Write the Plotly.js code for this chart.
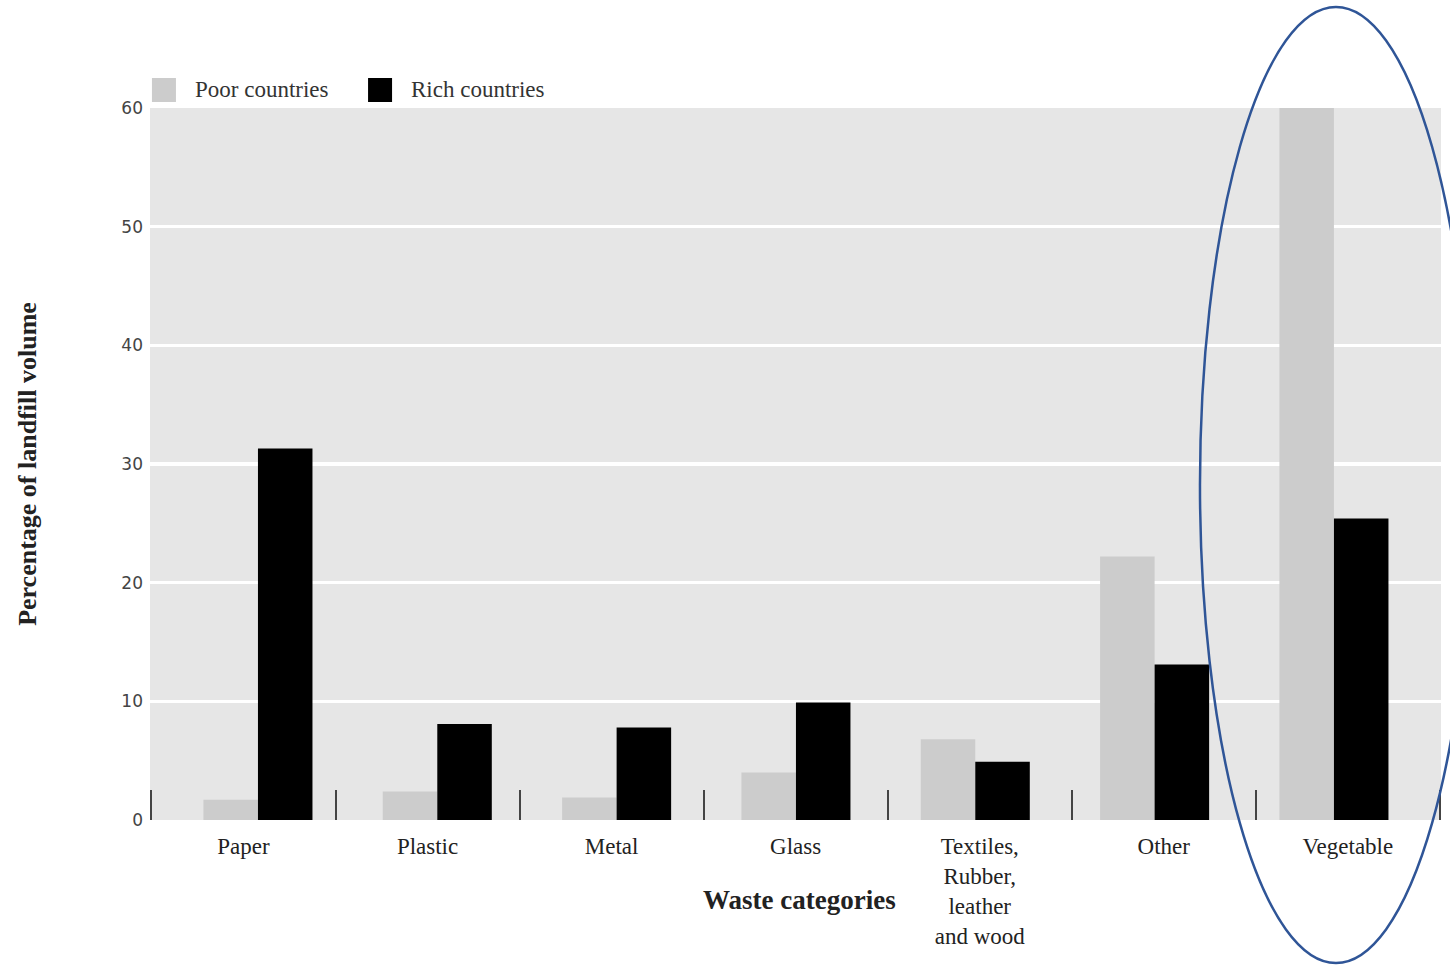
<!DOCTYPE html>
<html>
<head>
<meta charset="utf-8">
<script src="https://cdn.plot.ly/plotly-3.0.1.min.js"></script>
<style>html,body{margin:0;padding:0;background:#fff;}#chart{width:1450px;height:965px;}</style>
</head>
<body>
<div id="chart"></div>
<script>
const categories = ["Paper", "Plastic", "Metal", "Glass", "Textiles, Rubber, leather and wood", "Other", "Vegetable"];
const tickLabels = ["Paper", "Plastic", "Metal", "Glass", "Textiles,<br>Rubber,<br>leather<br>and wood", "Other", "Vegetable"];
const poorCountries = [1.7, 2.4, 1.9, 4.0, 6.8, 22.2, 60];
const richCountries = [31.3, 8.1, 7.8, 9.9, 4.9, 13.1, 25.4];
const seriesNames = ["Poor countries", "Rich countries"];
const seriesColors = ["#cccccc", "#000000"];

const serif = "Liberation Serif, Times New Roman, serif";

const traces = [
  {type: "bar", name: seriesNames[0], x: categories, y: poorCountries, marker: {color: seriesColors[0]}, xaxis: "x", yaxis: "y"},
  {type: "bar", name: seriesNames[1], x: categories, y: richCountries, marker: {color: seriesColors[1]}, xaxis: "x", yaxis: "y"},
  {type: "scatter", mode: "markers", x: categories, y: categories.map(() => 0), marker: {opacity: 0}, showlegend: false, hoverinfo: "skip", xaxis: "x2", yaxis: "y"}
];

// custom legend (large square swatches like the reference)
const legendX = [0.0015, 0.1689];
const legendShapes = seriesColors.map((c, i) => ({
  type: "rect", xref: "paper", yref: "paper", x0: legendX[i], x1: legendX[i] + 0.0186, y0: 1.0084, y1: 1.0421,
  line: {width: 0}, fillcolor: c
}));
const legendAnn = seriesNames.map((n, i) => ({
  xref: "paper", yref: "paper", x: legendX[i] + 0.0318, y: 1.0253, xanchor: "left", yanchor: "middle", showarrow: false,
  text: n, font: {family: serif, size: 23, color: "#333"}
}));

const layout = {
  width: 1450, height: 965,
  margin: {l: 150, r: 9, t: 108, b: 145},
  paper_bgcolor: "#ffffff",
  plot_bgcolor: "#e6e6e6",
  barmode: "group",
  bargap: 0.392,
  bargroupgap: 0,
  showlegend: false,
  xaxis: {type: "category", categoryorder: "array", categoryarray: categories,
          range: [-0.602, 6.597], showticklabels: false, ticks: "", showgrid: false, zeroline: false, showline: false, fixedrange: true},
  xaxis2: {type: "category", overlaying: "x", anchor: "y", side: "bottom", categoryorder: "array", categoryarray: categories,
           range: [-0.508, 6.506], tickmode: "array", tickvals: categories, ticktext: tickLabels,
           tickson: "boundaries", ticks: "inside", ticklen: 30, tickwidth: 2, tickcolor: "#444",
           ticklabelstandoff: 10,
           tickfont: {family: serif, size: 23, color: "#222"}, showgrid: false, zeroline: false, showline: false},
  yaxis: {range: [0, 60], dtick: 10, showgrid: true, gridcolor: "#ffffff", gridwidth: 3.5, zeroline: false, showline: false,
          ticks: "", ticklabelstandoff: 6, tickfont: {family: "DejaVu Sans, sans-serif", size: 17, color: "#444"},
          title: {text: "<b>Percentage of landfill volume</b>", font: {family: serif, size: 26, color: "#222"}, standoff: 77}},
  annotations: [
    {xref: "paper", yref: "paper", x: 0.503, y: -0.112, xanchor: "center", yanchor: "middle", showarrow: false,
     text: "<b>Waste categories</b>", font: {family: serif, size: 27, color: "#222"}}
  ].concat(legendAnn),
  shapes: [
    {type: "circle", xref: "paper", yref: "paper", x0: 0.8133, x1: 1.024, y0: -0.2008, y1: 1.1419,
     line: {color: "#2f5597", width: 2.5}, fillcolor: "rgba(0,0,0,0)"}
  ].concat(legendShapes)
};

Plotly.newPlot("chart", traces, layout, {displayModeBar: false, staticPlot: true});
</script>
</body>
</html>
